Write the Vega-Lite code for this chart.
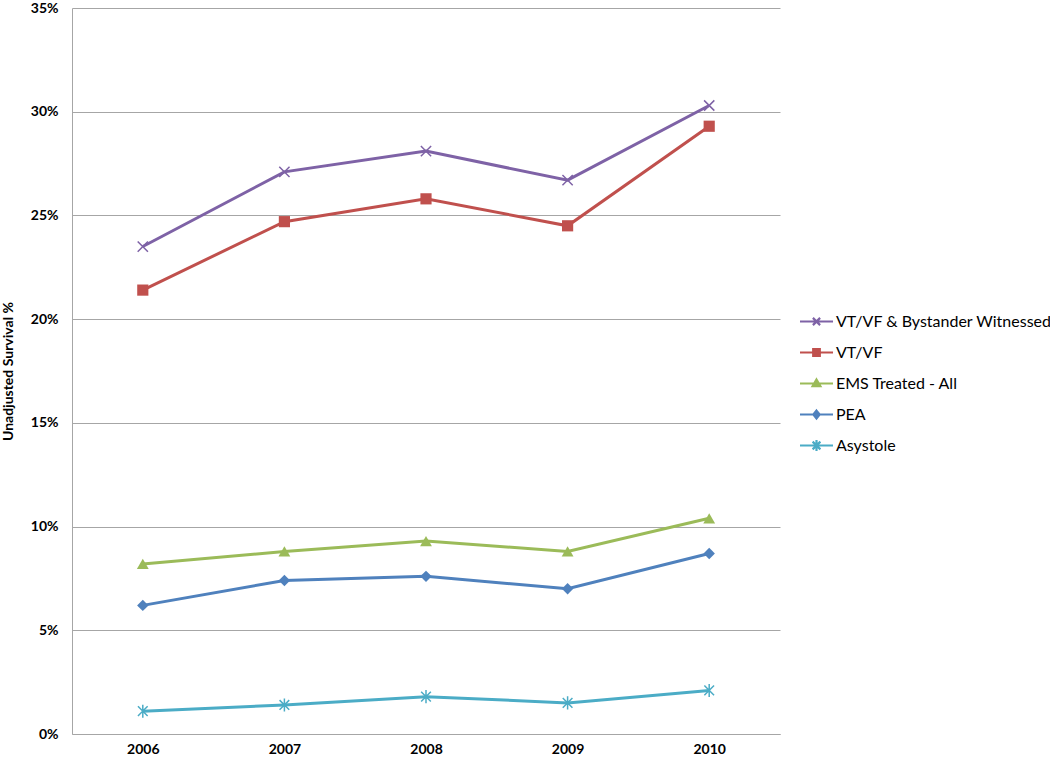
{
  "$schema": "https://vega.github.io/schema/vega-lite/v6.json",
  "autosize": "none",
  "width": 708,
  "height": 726,
  "padding": {"left": 72, "top": 8, "right": 270, "bottom": 29},
  "background": "white",
  "config": {
    "font": "Lato",
    "view": {"stroke": null},
    "axis": {"labelFont": "Lato", "titleFont": "Lato", "labelColor": "#000", "titleColor": "#000"}
  },
  "data": {
    "values": [
      {"year": "2006", "series": "VT/VF & Bystander Witnessed", "pct": 23.5},
      {"year": "2007", "series": "VT/VF & Bystander Witnessed", "pct": 27.1},
      {"year": "2008", "series": "VT/VF & Bystander Witnessed", "pct": 28.1},
      {"year": "2009", "series": "VT/VF & Bystander Witnessed", "pct": 26.7},
      {"year": "2010", "series": "VT/VF & Bystander Witnessed", "pct": 30.3},
      {"year": "2006", "series": "VT/VF", "pct": 21.4},
      {"year": "2007", "series": "VT/VF", "pct": 24.7},
      {"year": "2008", "series": "VT/VF", "pct": 25.8},
      {"year": "2009", "series": "VT/VF", "pct": 24.5},
      {"year": "2010", "series": "VT/VF", "pct": 29.3},
      {"year": "2006", "series": "EMS Treated - All", "pct": 8.2},
      {"year": "2007", "series": "EMS Treated - All", "pct": 8.8},
      {"year": "2008", "series": "EMS Treated - All", "pct": 9.3},
      {"year": "2009", "series": "EMS Treated - All", "pct": 8.8},
      {"year": "2010", "series": "EMS Treated - All", "pct": 10.4},
      {"year": "2006", "series": "PEA", "pct": 6.2},
      {"year": "2007", "series": "PEA", "pct": 7.4},
      {"year": "2008", "series": "PEA", "pct": 7.6},
      {"year": "2009", "series": "PEA", "pct": 7.0},
      {"year": "2010", "series": "PEA", "pct": 8.7},
      {"year": "2006", "series": "Asystole", "pct": 1.1},
      {"year": "2007", "series": "Asystole", "pct": 1.4},
      {"year": "2008", "series": "Asystole", "pct": 1.8},
      {"year": "2009", "series": "Asystole", "pct": 1.5},
      {"year": "2010", "series": "Asystole", "pct": 2.1}
    ]
  },
  "encoding": {
    "x": {
      "field": "year", "type": "ordinal",
      "scale": {"type": "point", "padding": 0.5},
      "axis": {
        "title": null, "labelAngle": 0, "ticks": false, "labelPadding": 8,
        "labelFontSize": 14, "labelFontWeight": "bold",
        "domainColor": "#a6a6a6", "domainWidth": 1, "grid": false
      }
    },
    "y": {
      "field": "pct", "type": "quantitative",
      "scale": {"domain": [0, 35], "nice": false},
      "axis": {
        "title": "Unadjusted Survival %", "titleFontSize": 14, "titleFontWeight": "bold",
        "titlePadding": 15,
        "values": [0, 5, 10, 15, 20, 25, 30, 35],
        "labelExpr": "datum.value + '%'",
        "labelFontSize": 14, "labelFontWeight": "bold", "labelPadding": 14,
        "ticks": false, "grid": true, "gridColor": "#a6a6a6", "gridWidth": 1,
        "domainColor": "#a6a6a6", "domainWidth": 1
      }
    },
    "color": {
      "field": "series", "type": "nominal",
      "scale": {
        "domain": ["VT/VF & Bystander Witnessed", "VT/VF", "EMS Treated - All", "PEA", "Asystole"],
        "range": ["#7E62A6", "#C0504D", "#9BBB59", "#4F81BD", "#4BACC6"]
      },
      "legend": {
        "title": null,
        "orient": "none",
        "legendX": 728,
        "legendY": 297,
        "symbolSize": 900,
        "symbolStrokeWidth": 3,
        "labelFontSize": 16,
        "labelFont": "Lato",
        "labelColor": "#000",
        "labelLimit": 400,
        "labelOffset": 3,
        "rowPadding": 6,
        "encode": {
          "symbols": {
            "update": {
              "shape": {"signal": "datum.value == 'VT/VF & Bystander Witnessed' ? 'M-1.1,0L1.1,0M-0.24,-0.24L0.24,0.24M-0.24,0.24L0.24,-0.24' : datum.value == 'VT/VF' ? 'M-1.1,0L1.1,0M-0.22,-0.22L0.22,-0.22L0.22,0.22L-0.22,0.22Z' : datum.value == 'EMS Treated - All' ? 'M-1.1,0L1.1,0M0,-0.27L0.26,0.18L-0.26,0.18Z' : datum.value == 'PEA' ? 'M-1.1,0L1.1,0M0,-0.26L0.21,0L0,0.26L-0.21,0Z' : 'M-1.1,0L1.1,0M-0.26,-0.26L0.26,0.26M-0.26,0.26L0.26,-0.26M0,-0.36L0,0.36'"},
              "fill": {"signal": "scale('color', datum.value)"},
              "stroke": {"signal": "scale('color', datum.value)"},
              "strokeWidth": {"value": 2.2}
            }
          }
        }
      }
    }
  },
  "layer": [
    {
      "mark": {"type": "line", "strokeWidth": 3}
    },
    {
      "transform": [{"filter": "datum.series == 'VT/VF & Bystander Witnessed'"}],
      "mark": {"type": "point", "filled": false, "opacity": 1, "size": 130, "strokeWidth": 1.5, "shape": "M-0.9,-0.9L0.9,0.9M-0.9,0.9L0.9,-0.9"}
    },
    {
      "transform": [{"filter": "datum.series == 'VT/VF'"}],
      "mark": {"type": "point", "filled": true, "opacity": 1, "size": 125, "shape": "square"}
    },
    {
      "transform": [{"filter": "datum.series == 'EMS Treated - All'"}],
      "mark": {"type": "point", "filled": true, "opacity": 1, "size": 140, "shape": "triangle-up"}
    },
    {
      "transform": [{"filter": "datum.series == 'PEA'"}],
      "mark": {"type": "point", "filled": true, "opacity": 1, "size": 130, "shape": "diamond"}
    },
    {
      "transform": [{"filter": "datum.series == 'Asystole'"}],
      "mark": {"type": "point", "filled": false, "opacity": 1, "size": 130, "strokeWidth": 1.5, "shape": "M-0.85,-0.85L0.85,0.85M-0.85,0.85L0.85,-0.85M0,-1.15L0,1.15"}
    }
  ]
}
